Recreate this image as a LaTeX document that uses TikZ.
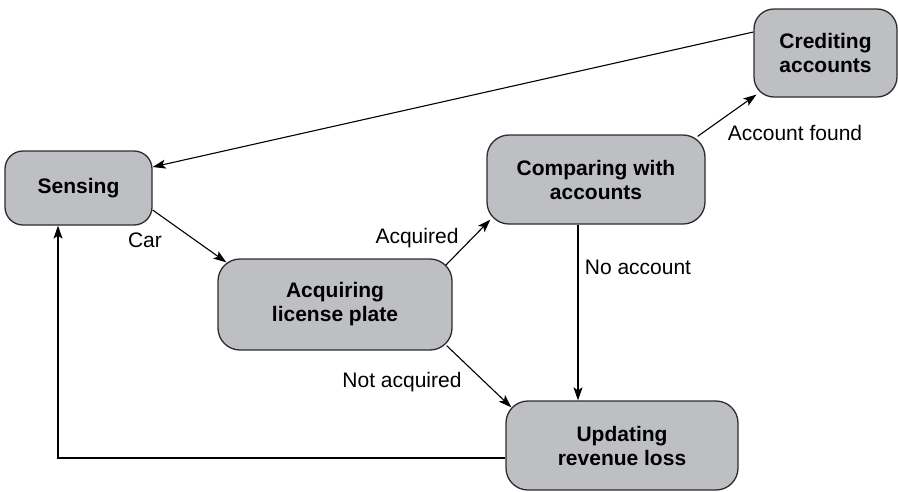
\documentclass[tikz,border=0pt]{standalone}
\usepackage{fontspec}
\setmainfont{Liberation Sans}
\usetikzlibrary{arrows.meta}
\definecolor{boxfill}{RGB}{190,191,195}
\definecolor{boxline}{RGB}{45,45,45}
\begin{document}
\begin{tikzpicture}[x=1pt,y=-1pt,
  state/.style={draw=boxline,fill=boxfill,line width=1.3pt,rounded corners=18pt,
    inner sep=0pt,align=center,font=\fontsize{21}{24}\selectfont\bfseries},
  lbl/.style={inner sep=0pt,font=\fontsize{21}{24}\selectfont},
  conn/.style={draw=black,line width=1.1pt,-{Stealth[length=13pt,width=9pt,inset=3pt]}}]
\useasboundingbox (0,0) rectangle (898,491);
\node[state,minimum width=147pt,minimum height=74pt] (sens) at (78.5,188) {Sensing};
\node[state,minimum width=234pt,minimum height=91pt,rounded corners=22pt] (acq) at (335,304.5) {Acquiring\\license plate};
\node[state,minimum width=218pt,minimum height=89pt,rounded corners=22pt] (comp) at (596,179.5) {Comparing with\\accounts};
\node[state,minimum width=143pt,minimum height=88pt,rounded corners=20pt] (cred) at (825.5,53) {Crediting\\accounts};
\node[state,minimum width=232pt,minimum height=89pt,rounded corners=22pt] (upd) at (622,445.5) {Updating\\revenue loss};

\draw[conn] ([yshift=21pt]cred.west) -- ([yshift=21pt]sens.east);
\draw[conn] ([yshift=-22pt]sens.east) -- ([shift={(9pt,-4pt)}]acq.north west);
\draw[conn] ([shift={(-7pt,-7pt)}]acq.north east) -- ([shift={(4pt,5pt)}]comp.south west);
\draw[conn] ([shift={(-8pt,-2pt)}]comp.north east) -- ([shift={(3pt,3pt)}]cred.south west);
\draw[conn] ([xshift=-18pt]comp.south) -- ([xshift=-18pt]comp.south |- upd.north);
\draw[conn] ([shift={(-6pt,5pt)}]acq.south east) -- ([shift={(6pt,-7pt)}]upd.north west);
\draw[conn] ([yshift=-12.5pt]upd.west) -| ([xshift=-20.5pt]sens.south);

\node[lbl] (lcar) at (145,240) {Car};
\node[lbl] (lacq) at (417,238) {Acquired};
\node[lbl] (lfound) at (795,133) {Account found};
\node[lbl] (lno) at (638,267) {No account};
\node[lbl] (lnot) at (402,382) {Not acquired};
\end{tikzpicture}
\end{document}
